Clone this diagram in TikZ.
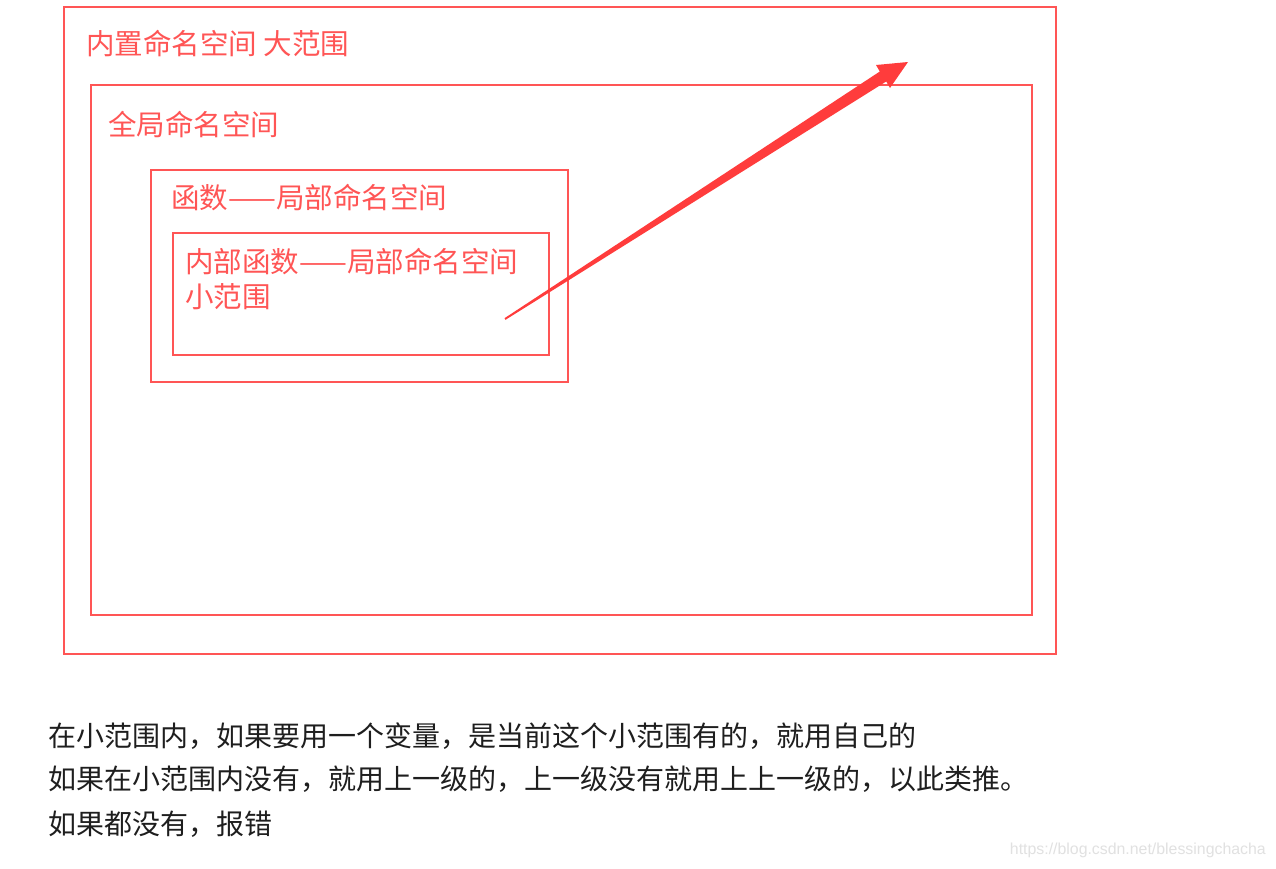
\documentclass[tikz,border=0pt]{standalone}
\usepackage{fontspec}
\newfontfamily\cjk{Noto Sans CJK SC}
\setmainfont{Liberation Sans}
\definecolor{boxred}{RGB}{255,85,85}
\definecolor{arrred}{RGB}{255,60,60}
\definecolor{bodytxt}{RGB}{30,30,30}
\definecolor{wmark}{RGB}{225,225,225}
\begin{document}
\begin{tikzpicture}[x=0.75pt,y=-0.75pt,
  frame/.style={draw=boxred,line width=1.3pt},
  redlabel/.style={anchor=west,inner sep=0pt,text=boxred,font=\cjk\fontsize{21.4}{25}\selectfont},
  bodyline/.style={anchor=west,inner sep=0pt,text=bodytxt,font=\cjk\fontsize{21}{25}\selectfont}]
\useasboundingbox[fill=white] (0,0) rectangle (1276,868);
% boxes
\draw[frame] (64,7) rectangle (1056,654);
\draw[frame] (91,85) rectangle (1032,615);
\draw[frame] (151,170) rectangle (568,382);
\draw[frame] (173,233) rectangle (549,355);
% labels
\node[redlabel] (builtin) at (86,44) {内置命名空间 大范围};
\node[redlabel] (global) at (108,124) {全局命名空间};
\node[redlabel] (func) at (171,198) {函数——局部命名空间};
\node[redlabel] (inner) at (185,262) {内部函数——局部命名空间};
\node[redlabel] (small) at (185,297) {小范围};
% arrow
\fill[arrred] (504.5,318.2) -- (879.8,71.5) -- (876,65) -- (908,62) -- (890,88) -- (886.2,81.5) -- (505.5,319.8) -- cycle;
% body text
\node[bodyline] (l1) at (48,736) {在小范围内，如果要用一个变量，是当前这个小范围有的，就用自己的};
\node[bodyline] (l2) at (48,779) {如果在小范围内没有，就用上一级的，上一级没有就用上上一级的，以此类推。};
\node[bodyline] (l3) at (48,824) {如果都没有，报错};
% watermark
\node[anchor=east,inner sep=0pt,text=wmark,font=\fontsize{11.9}{13}\selectfont] (wm) at (1266,850) {https://blog.csdn.net/blessingchacha};
\end{tikzpicture}
\end{document}
